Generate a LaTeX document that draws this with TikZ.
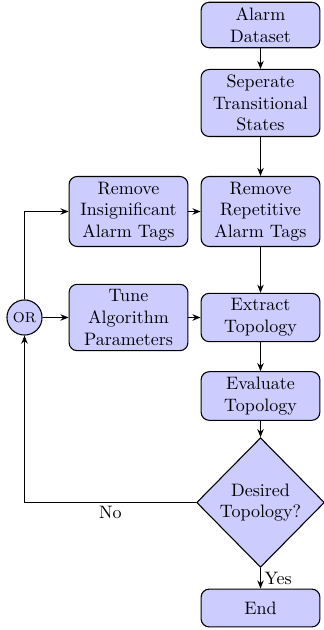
\documentclass[tikz,border=0pt]{standalone}
\usetikzlibrary{shapes.geometric,arrows.meta}
\begin{document}
\begin{tikzpicture}[x=0.5556pt,y=-0.5556pt,
  procbox/.style={draw=black,semithick,fill=blue!20,rounded corners=4.5pt,align=center,
    minimum width=64pt,text width=60pt,minimum height=21pt,inner sep=3pt},
  decbox/.style={draw=black,semithick,fill=blue!20,diamond,align=center,
    minimum width=71pt,minimum height=72pt,inner sep=0pt},
  orbox/.style={draw=black,semithick,fill=blue!20,circle,minimum size=19.5pt,inner sep=0pt,font=\footnotesize},
  conn/.style={semithick,-{Stealth[length=4.5pt,width=3.6pt]}},
  lbl/.style={inner sep=2pt}]
\useasboundingbox (0,0) rectangle (323,630);
\node[procbox] (data) at (260.5,25) {Alarm\\Dataset};
\node[procbox] (sep) at (260.5,103) {Seperate\\Transitional\\States};
\node[procbox] (rep) at (260.5,211.5) {Remove\\Repetitive\\Alarm Tags};
\node[procbox] (ins) at (128.5,211.5) {Remove\\Insignificant\\Alarm Tags};
\node[procbox] (tune) at (128.5,317.5) {Tune\\Algorithm\\Parameters};
\node[procbox] (ext) at (260.5,317.5) {Extract\\Topology};
\node[orbox] (or) at (24.5,317.5) {OR};
\node[procbox] (eval) at (260.5,396) {Evaluate\\Topology};
\node[decbox] (des) at (260.5,502.5) {Desired\\Topology?};
\node[procbox] (end) at (260.5,608) {End};
\draw[conn] (data) -- (sep);
\draw[conn] (sep) -- (rep);
\draw[conn] (rep) -- (ext);
\draw[conn] (ext) -- (eval);
\draw[conn] (eval) -- (des);
\draw[conn] (des) -- node[lbl,right] {Yes} (end);
\draw[conn] (ins) -- (rep);
\draw[conn] (tune) -- (ext);
\draw[conn] (or) -- (tune);
\draw[conn] (or) |- (ins);
\draw[conn] (des.west) -| node[lbl,below,pos=0.25] {No} (or.south);
\end{tikzpicture}
\end{document}
